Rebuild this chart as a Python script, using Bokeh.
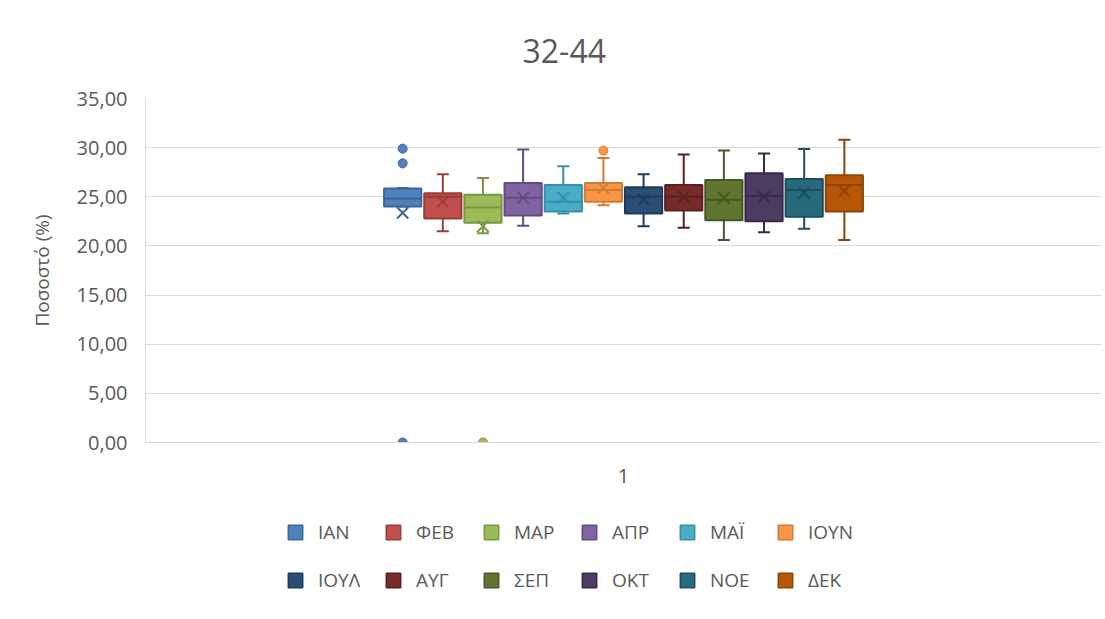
from bokeh.plotting import figure
from bokeh.layouts import column
from bokeh.models import (Range1d, FactorRange, FixedTicker, ColumnDataSource,
                          Legend, LegendItem)
from bokeh.transform import dodge
from bokeh.embed import file_html
from bokeh.resources import INLINE

# ---- data ----
months = ["ΙΑΝ", "ΦΕΒ", "ΜΑΡ", "ΑΠΡ", "ΜΑΪ", "ΙΟΥΝ",
          "ΙΟΥΛ", "ΑΥΓ", "ΣΕΠ", "ΟΚΤ", "ΝΟΕ", "ΔΕΚ"]
whisk_low = [24.0, 21.5, 21.3, 22.05, 23.3, 24.15, 22.0, 21.85, 20.6, 21.4, 21.75, 20.6]
q1 = [24.0, 22.8, 22.35, 23.1, 23.5, 24.5, 23.3, 23.6, 22.6, 22.5, 22.96, 23.5]
median = [24.8, 25.0, 23.9, 24.9, 24.5, 25.7, 25.0, 25.0, 24.7, 25.1, 25.7, 26.2]
q3 = [25.84, 25.36, 25.2, 26.4, 26.2, 26.4, 25.97, 26.2, 26.7, 27.4, 26.8, 27.2]
whisk_high = [25.9, 27.3, 26.9, 29.8, 28.1, 28.95, 27.3, 29.3, 29.7, 29.4, 29.85, 30.8]
mean = [23.36, 24.5, 22.0, 24.9, 24.9, 25.9, 24.7, 25.0, 24.9, 25.0, 25.4, 25.6]
outliers = [[29.9, 28.4, 0.0], [], [0.0], [], [], [29.7], [], [], [], [], [], []]

category = ["1"]
y_ticks = [0, 5, 10, 15, 20, 25, 30, 35]
y_tick_labels = ["0,00", "5,00", "10,00", "15,00", "20,00", "25,00", "30,00", "35,00"]

fills = ["#4F81BD", "#C0504D", "#9BBB59", "#8064A2", "#4BACC6", "#F79646",
         "#2C4D75", "#772C2A", "#5F7530", "#4D3B62", "#276A7C", "#B65708"]
lines = ["#3B6699", "#9C3B38", "#7A9643", "#624B82", "#3390A9", "#D57A33",
         "#1F3A5A", "#5A1F1E", "#465823", "#372A48", "#1B4F5C", "#8F4306"]

FONT = "Open Sans"
TXT = "#595959"
GRID = "#D9D9D9"

W, H, LH = 1101, 500, 115
p = figure(width=W, height=H, output_backend="svg", toolbar_location=None,
           x_range=FactorRange(*category, range_padding=0),
           y_range=Range1d(0, 35),
           min_border_left=145, min_border_right=0, min_border_top=97,
           min_border_bottom=H - 442, title="32-44")
p.outline_line_color = None

p.title.text_font = FONT
p.title.text_font_size = "32px"
p.title.text_font_style = "normal"
p.title.text_color = TXT
p.title.align = "left"
p.title.offset = 377
p.title.standoff = 72

p.yaxis.ticker = FixedTicker(ticks=y_ticks)
p.yaxis.major_label_overrides = {t: l for t, l in zip(y_ticks, y_tick_labels)}
p.yaxis.axis_label = "Ποσοστό (%)"
p.yaxis.axis_label_text_font = FONT
p.yaxis.axis_label_text_font_size = "19px"
p.yaxis.axis_label_text_font_style = "normal"
p.yaxis.axis_label_text_color = TXT
p.yaxis.axis_label_standoff = 19
for ax in (p.xaxis, p.yaxis):
    ax.major_label_text_font = FONT
    ax.major_label_text_font_size = "20px"
    ax.major_label_text_color = TXT
    ax.major_tick_line_color = None
    ax.minor_tick_line_color = None
    ax.axis_line_color = GRID
p.yaxis.major_label_standoff = 12
p.xaxis.major_label_standoff = 20

p.ygrid.grid_line_color = GRID
p.ygrid.grid_line_width = 1
p.xgrid.grid_line_color = None

step = 0.042
box_w = 0.0389
cap_w = 0.0126
n = len(months)

# legend figure (below the chart)
lf = figure(width=W, height=LH, output_backend="svg", toolbar_location=None,
            x_range=Range1d(0, 1), y_range=Range1d(0, 1),
            min_border=0, min_border_left=0, min_border_right=0,
            min_border_top=0, min_border_bottom=0)
lf.axis.visible = False
lf.grid.visible = False
lf.outline_line_color = None

legend_items = []
for i, m in enumerate(months):
    off = (i - (n - 1) / 2) * step
    src = ColumnDataSource(dict(cat=category, lo=[whisk_low[i]], q1=[q1[i]],
                                med=[median[i]], q3=[q3[i]], hi=[whisk_high[i]],
                                mean=[mean[i]]))
    xc = dodge("cat", off, range=p.x_range)
    xl = dodge("cat", off - cap_w / 2, range=p.x_range)
    xr = dodge("cat", off + cap_w / 2, range=p.x_range)
    bl = dodge("cat", off - box_w / 2, range=p.x_range)
    br = dodge("cat", off + box_w / 2, range=p.x_range)
    # whiskers
    p.segment(x0=xc, y0="q3", x1=xc, y1="hi", source=src, line_color=lines[i], line_width=2)
    p.segment(x0=xc, y0="lo", x1=xc, y1="q1", source=src, line_color=lines[i], line_width=2)
    p.segment(x0=xl, y0="hi", x1=xr, y1="hi", source=src, line_color=lines[i], line_width=2)
    p.segment(x0=xl, y0="lo", x1=xr, y1="lo", source=src, line_color=lines[i], line_width=2)
    # box
    p.vbar(x=xc, width=box_w, bottom="q1", top="q3", source=src,
           fill_color=fills[i], line_color=lines[i], line_width=2)
    p.segment(x0=bl, y0="med", x1=br, y1="med", source=src, line_color=lines[i], line_width=2)
    p.scatter(x=xc, y="mean", source=src, marker="x", size=16,
              line_color=lines[i], line_width=2)
    if outliers[i]:
        osrc = ColumnDataSource(dict(cat=category * len(outliers[i]), v=outliers[i]))
        p.scatter(x=xc, y="v", source=osrc, marker="circle", size=9,
                  fill_color=fills[i], line_color=lines[i], line_width=1)
    # legend swatch renderer: hidden, only its style is shown in the legend
    lsrc = ColumnDataSource(dict(x=[i], q1=[q1[i]], q3=[q3[i]]))
    r = lf.vbar(x="x", bottom="q1", top="q3", width=0.8, source=lsrc,
                fill_color=fills[i], line_color=lines[i], line_width=1.5)
    r.visible = False
    legend_items.append(LegendItem(label=m, renderers=[r]))

for row, yloc in ((0, 70), (1, 22)):
    lg = Legend(items=legend_items[row * 6:(row + 1) * 6], orientation="horizontal",
                location=(141, yloc), padding=0, margin=0, spacing=4,
                glyph_width=18, glyph_height=18, label_standoff=14,
                label_width=62, label_height=18,
                label_text_font=FONT, label_text_font_size="19px",
                label_text_color=TXT, border_line_alpha=0,
                background_fill_alpha=0, inactive_fill_alpha=0)
    lf.add_layout(lg, "center")

open("out.html", "w").write(file_html(column(p, lf, spacing=0), INLINE))
